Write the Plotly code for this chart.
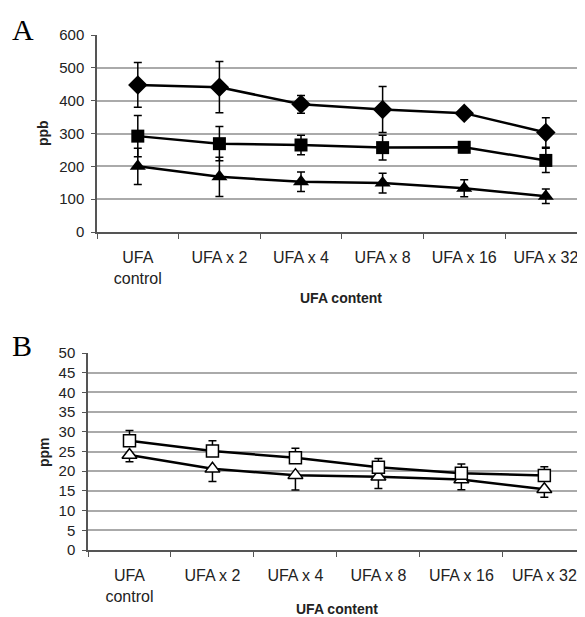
import plotly.graph_objects as go

categories = ["UFA<br>control", "UFA x 2", "UFA x 4", "UFA x 8", "UFA x 16", "UFA x 32"]

# Panel A (ppb)
a_diamond = [448, 441, 389, 373, 362, 303]
a_diamond_err = [68, 78, 27, 70, 12, 45]
a_square = [292, 269, 265, 257, 258, 218]
a_square_err = [63, 52, 30, 38, 16, 37]
a_triangle = [200, 168, 153, 149, 133, 109]
a_triangle_err = [55, 60, 30, 30, 26, 22]

# Panel B (ppm)
b_square = [27.7, 25.1, 23.4, 21.0, 19.5, 18.9]
b_square_err_plus = [2.6, 2.6, 2.4, 2.2, 2.3, 2.2]
b_triangle = [24.1, 20.6, 19.0, 18.6, 17.9, 15.4]
b_triangle_err_minus = [1.7, 3.2, 3.8, 3.0, 2.6, 2.0]

OFF = 8  # page body margin
W, H = 585 - OFF, 617 - OFF
FONT = "Liberation Sans, Arial, sans-serif"
TXT = "#222222"

fig = go.Figure()

def eb(arr, minus=None, symmetric=True):
    d = dict(type="data", array=arr, color="black", thickness=1.5, width=4, visible=True)
    if not symmetric:
        d["symmetric"] = False
        d["arrayminus"] = minus
    return d

line = dict(color="black", width=2.5)

fig.add_trace(go.Scatter(x=categories, y=a_diamond, mode="lines+markers", line=line,
                         marker=dict(symbol="diamond", size=15, color="black"),
                         error_y=eb(a_diamond_err), xaxis="x", yaxis="y", showlegend=False))
fig.add_trace(go.Scatter(x=categories, y=a_square, mode="lines+markers", line=line,
                         marker=dict(symbol="square", size=13, color="black"),
                         error_y=eb(a_square_err), xaxis="x", yaxis="y", showlegend=False))
fig.add_trace(go.Scatter(x=categories, y=a_triangle, mode="lines+markers", line=line,
                         marker=dict(symbol="triangle-up", size=14, color="black"),
                         error_y=eb(a_triangle_err), xaxis="x", yaxis="y", showlegend=False))

fig.add_trace(go.Scatter(x=categories, y=b_triangle, mode="lines+markers", line=line,
                         marker=dict(symbol="triangle-up", size=13, color="white",
                                     line=dict(color="black", width=1.5)),
                         error_y=eb([0]*6, b_triangle_err_minus, symmetric=False),
                         xaxis="x2", yaxis="y2", showlegend=False))
fig.add_trace(go.Scatter(x=categories, y=b_square, mode="lines+markers", line=line,
                         marker=dict(symbol="square", size=12, color="white",
                                     line=dict(color="black", width=1.5)),
                         error_y=eb(b_square_err_plus, [0]*6, symmetric=False),
                         xaxis="x2", yaxis="y2", showlegend=False))

def px_x(p):
    return (p - OFF) / W

def px_y(p):
    return 1 - (p - OFF) / H

xcommon = dict(type="category", tickson="boundaries", ticks="outside", ticklen=5,
               tickcolor="#555", showline=True, linecolor="#555", linewidth=1.5,
               showgrid=False, tickfont=dict(family=FONT, size=16, color=TXT),
               ticklabelstandoff=10, automargin=False, fixedrange=True)
ycommon = dict(ticks="outside", ticklen=4, tickcolor="#555", showline=True,
               linecolor="#555", linewidth=1.5, showgrid=True, gridcolor="#aaaaaa",
               gridwidth=1.5, zeroline=False, automargin=False, ticklabelstandoff=4,
               tickfont=dict(family=FONT, size=15, color=TXT))

def ann(text, x, y, size, family=FONT, angle=0, color=TXT):
    return dict(text=text, x=px_x(x), y=px_y(y), xref="paper", yref="paper",
                xanchor="center", yanchor="middle", showarrow=False, textangle=angle,
                font=dict(family=family, size=size, color=color))

SERIF = "Liberation Serif, Times New Roman, serif"

fig.update_layout(
    template="none",
    width=W, height=H,
    margin=dict(l=0, r=0, t=0, b=0, pad=0),
    paper_bgcolor="white", plot_bgcolor="white",
    xaxis=dict(xcommon, domain=[px_x(97), 1], range=[-0.5, 5.48], anchor="y"),
    yaxis=dict(ycommon, domain=[px_y(232), px_y(35)], range=[0, 600], dtick=100, anchor="x"),
    xaxis2=dict(xcommon, domain=[px_x(88), 1], range=[-0.5, 5.49], anchor="y2"),
    yaxis2=dict(ycommon, domain=[px_y(550), px_y(353)], range=[0, 50], dtick=5, anchor="x2"),
    annotations=[
        ann("A", 23, 30, 30, SERIF, color="black"),
        ann("B", 22, 345, 30, SERIF, color="black"),
        ann("<b>ppb</b>", 43, 133, 14, angle=-90),
        ann("<b>ppm</b>", 44, 452, 14, angle=-90),
        ann("<b>UFA content</b>", 341, 298, 14),
        ann("<b>UFA content</b>", 337, 609, 14),
    ],
)

fig.write_html("out.html")
